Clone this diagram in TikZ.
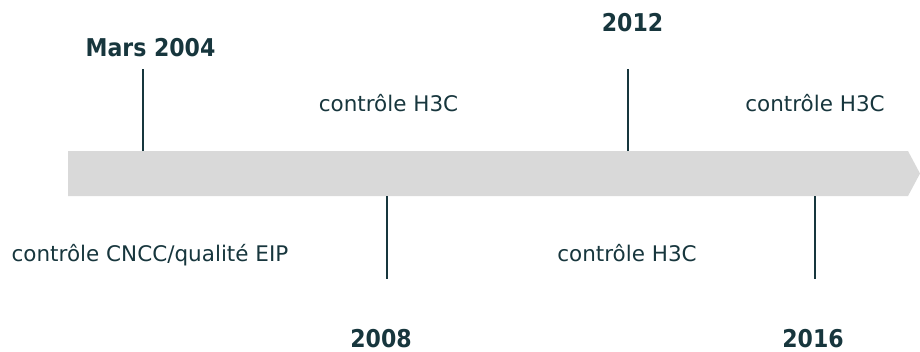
\documentclass[tikz,border=0pt]{standalone}
\usepackage{fontspec}
\setmainfont{DejaVu Sans}
\newfontfamily\yearfont{DejaVu Sans Condensed}
\usetikzlibrary{positioning, calc}
\definecolor{inkteal}{HTML}{17363D}
\definecolor{bandgray}{HTML}{D9D9D9}

\begin{document}
\begin{tikzpicture}[
  x=1pt, y=-1pt,
  every node/.style={font=\fontsize{21.5}{24}\selectfont, text=inkteal,
                     inner sep=0pt, anchor=base},
  year/.style={font=\yearfont\fontsize{24.5}{28}\selectfont\bfseries, text depth=0pt},
  tickline/.style={draw=inkteal, line width=2pt}
]
\useasboundingbox (0,0) rectangle (920,351);

% band
\fill[bandgray] (68,151) -- (908,151) -- (920,173.5) -- (908,196) -- (68,196) -- cycle;

% ticks: name, x, band edge, free end
\def\milestone#1#2#3#4{%
  \coordinate (#1-a) at (#2,#3);
  \coordinate (#1-b) at (#2,#4);
  \draw[tickline] (#1-a) -- (#1-b);
}
\milestone{m04}{142.5}{151}{69}
\milestone{m12}{627.5}{151}{69}
\milestone{m08}{386.5}{196}{279}
\milestone{m16}{815}{196}{279}

% years (placed on their baselines)
\node[year] (y04) at (150.5,56) {Mars 2004};
\node[year] (y12) at (632.5,31.5) {2012};
\node[year] (y08) at (381,347) {2008};
\node[year] (y16) at (813,347) {2016};

% periods
\node (p1) at (150,261) {contrôle CNCC/qualité EIP};
\node (p2) at (388.5,111) {contrôle H3C};
\node (p3) at (627,261) {contrôle H3C};
\node (p4) at (815,111) {contrôle H3C};
\end{tikzpicture}
\end{document}
